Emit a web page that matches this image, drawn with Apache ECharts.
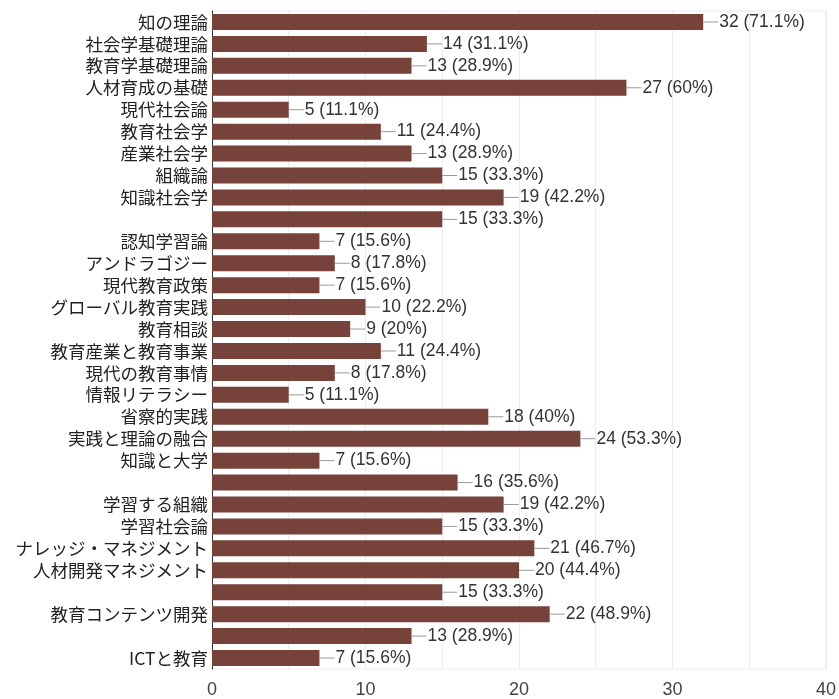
<!DOCTYPE html>
<html>
<head>
<meta charset="utf-8">
<script src="https://cdn.jsdelivr.net/npm/echarts@6/dist/echarts.min.js"></script>
<style>
html,body{margin:0;padding:0;background:#fff;}
#chart{width:839px;height:699px;}
</style>
</head>
<body>
<div id="chart"></div>
<script>
// Course names (blank entries are unnamed rows)
const categories = [
  '知の理論','社会学基礎理論','教育学基礎理論','人材育成の基礎','現代社会論',
  '教育社会学','産業社会学','組織論','知識社会学','',
  '認知学習論','アンドラゴジー','現代教育政策','グローバル教育実践','教育相談',
  '教育産業と教育事業','現代の教育事情','情報リテラシー','省察的実践','実践と理論の融合',
  '知識と大学','','学習する組織','学習社会論','ナレッジ・マネジメント',
  '人材開発マネジメント','','教育コンテンツ開発','','ICTと教育'
];
// Number of respondents per course
const counts = [32,14,13,27,5,11,13,15,19,15,7,8,7,10,9,11,8,5,18,24,7,16,19,15,21,20,15,22,13,7];
// Share of respondents, as printed next to each bar
const percents = ['71.1','31.1','28.9','60','11.1','24.4','28.9','33.3','42.2','33.3','15.6','17.8','15.6','22.2','20','24.4','17.8','11.1','40','53.3','15.6','35.6','42.2','33.3','46.7','44.4','33.3','48.9','28.9','15.6'];
const xTicks = [0, 10, 20, 30, 40];

const latin = '"Liberation Sans", Arial, sans-serif';

const chart = echarts.init(document.getElementById('chart'));
chart.setOption({
  animation: false,
  backgroundColor: '#fff',
  grid: { left: 212, right: 12, top: 11, bottom: 29, containLabel: false,
          show: true, borderColor: '#ebebeb', borderWidth: 1 },
  xAxis: {
    type: 'value', min: 0, max: 40, interval: 5,
    axisLine: { show: false }, axisTick: { show: false },
    splitLine: { lineStyle: { color: '#ececec', width: 1 } },
    axisLabel: {
      margin: 12, color: '#444', fontSize: 18, fontFamily: latin,
      formatter: v => xTicks.indexOf(v) >= 0 ? String(v) : ''
    }
  },
  yAxis: {
    type: 'category', inverse: true, data: categories,
    axisLine: { show: true, onZero: false, lineStyle: { color: '#333', width: 1 } },
    axisTick: { show: false },
    axisLabel: { interval: 0, margin: 4, color: '#222', fontSize: 17.5,
                 fontFamily: '"Noto Sans CJK JP", sans-serif' }
  },
  series: [{
    type: 'bar',
    data: counts,
    barCategoryGap: '27%',
    itemStyle: { color: '#76423a' },
    label: {
      show: true, position: 'right', distance: 0,
      formatter: p => '{l|}{t|' + counts[p.dataIndex] + ' (' + percents[p.dataIndex] + '%)}',
      rich: {
        l: { width: 15, height: 1, backgroundColor: '#9a9a9a' },
        t: { color: '#333', fontSize: 17.5, fontFamily: latin, padding: [0, 0, 0, 1] }
      }
    }
  }]
});
</script>
</body>
</html>
